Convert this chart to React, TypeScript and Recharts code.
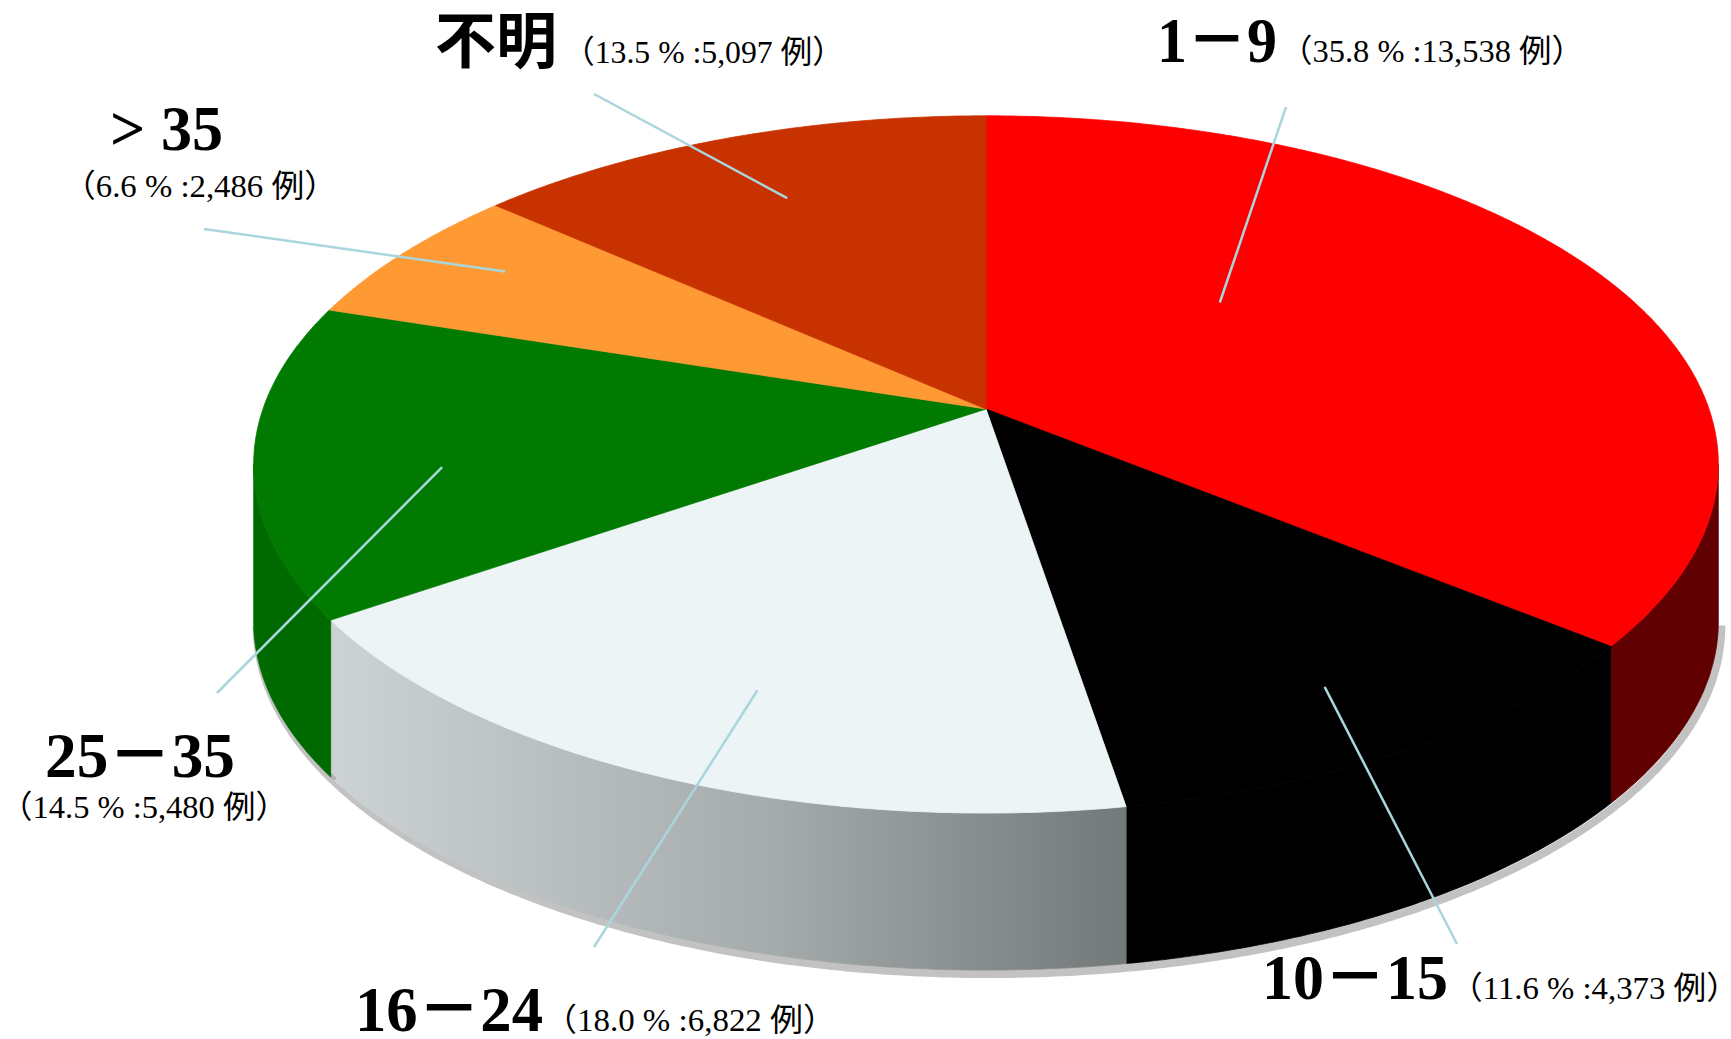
import React from "react";
import { Pie, PieChart } from "recharts";

const categories = ["1－9", "10－15", "16－24", "25－35", "> 35", "不明"];
const cases = [13538, 4373, 6822, 5480, 2486, 5097];
const percents = [35.8, 11.6, 18.0, 14.5, 6.6, 13.5];

const topColors = ["#ff0000", "#000000", "#edf4f6", "#007a00", "#ff9933", "#c83200"];
const sideColors = ["#600000", "#000000", "url(#sideGrey)", "#006a00", "#d97a20", "#a02800"];

const data = categories.map((name, i) => ({ name, value: cases[i] }));

// label placement: text anchors, outer end of the leader line, inner end as (radius, angle) on the disc
const layout = [
  { cat: [1157, 62], catW: 120, det: [1280, 62], detW: 304, end: [1286, 107], inner: [0.474, 44.1] },
  { cat: [1262, 999], catW: 186, det: [1450, 999], detW: 289, end: [1457, 944], inner: [0.834, -60.2] },
  { cat: [355, 1031], catW: 188, det: [544, 1031], detW: 292, end: [594, 947], inner: [0.783, -110.9] },
  { cat: [45, 777], catW: 190, det: [0, 818], detW: 288, end: [217, 693], inner: [0.751, -167.2] },
  { cat: [110, 150], catW: 113, det: [63, 197], detW: 274, end: [204, 229], inner: [0.832, 148.7] },
  { cat: [435, 63], catW: 122, det: [563, 63], detW: 281, end: [594, 94], inner: [0.753, 113.9] },
];

// tilted disc seen in perspective
const TILT = 0.47;
const PERSP = 0.159;
const DEPTH = 157;
const SILHOUETTE = (Math.asin(PERSP) * 180) / Math.PI;

const FONT = "'Liberation Serif', 'Noto Sans CJK JP', serif";

const project = (cx: number, cy: number, R: number, r: number, deg: number) => {
  const a = (deg * Math.PI) / 180;
  const u = r * Math.cos(a);
  const v = r * Math.sin(a);
  const d = 1 + PERSP * v;
  return [cx + (R * u) / d, cy - (R * TILT * v) / d];
};

const rimPoints = (cx: number, cy: number, R: number, from: number, to: number) => {
  const n = Math.max(2, Math.ceil(Math.abs(to - from) * 2));
  const pts: number[][] = [];
  for (let i = 0; i <= n; i++) pts.push(project(cx, cy, R, 1, from + ((to - from) * i) / n));
  return pts;
};

const toPath = (pts: number[][]) => pts.map((p, i) => `${i ? "L" : "M"}${p[0].toFixed(1)},${p[1].toFixed(1)}`).join("");

const sliceIndex = (props: any) =>
  typeof props.index === "number" ? props.index : categories.indexOf(props.payload?.name ?? props.name);

const renderSlice = (props: any) => {
  const { cx, cy, outerRadius: R, startAngle, endAngle } = props;
  const i = sliceIndex(props);
  const top = rimPoints(cx, cy, R, startAngle, endAngle);
  const topPath = `M${cx},${cy}` + toPath(top).replace(/^M/, "L") + "Z";

  const hi = Math.min(startAngle, -SILHOUETTE);
  const lo = Math.max(endAngle, -180 + SILHOUETTE);
  let side = null;
  let shadow = null;
  if (hi > lo) {
    const rim = rimPoints(cx, cy, R, hi, lo);
    const bottom = rim.map(([x, y]) => [x, y + DEPTH]);
    side = (
      <path
        d={toPath([...rim, ...bottom.slice().reverse()]) + "Z"}
        fill={sideColors[i]}
        stroke={sideColors[i]}
        strokeWidth={0.8}
      />
    );
    shadow = (
      <path
        d={toPath(bottom.map(([x, y]) => [x + 3, y + 4]))}
        fill="none"
        stroke="#999999"
        strokeOpacity={0.6}
        strokeWidth={8}
      />
    );
  }

  return (
    <g key={`slice-${i}`}>
      {i === 2 && (
        <defs>
          <linearGradient id="sideGrey" x1="0" y1="0" x2="1" y2="0">
            <stop offset="0%" stopColor="#cdd3d4" />
            <stop offset="55%" stopColor="#a6abac" />
            <stop offset="100%" stopColor="#737878" />
          </linearGradient>
        </defs>
      )}
      {shadow}
      {side}
      <path d={topPath} fill={topColors[i]} stroke={topColors[i]} strokeWidth={0.8} />
    </g>
  );
};

const renderNote = (props: any) => {
  const { cx, cy, outerRadius: R } = props;
  const i = sliceIndex(props);
  const L = layout[i];
  const [ix, iy] = project(cx, cy, R, L.inner[0], L.inner[1]);
  const detail = `（${percents[i].toFixed(1)} % :${cases[i].toLocaleString("en-US")} 例）`;
  return (
    <g key={`note-${i}`}>
      <line x1={L.end[0]} y1={L.end[1]} x2={ix} y2={iy} stroke="#a9d6dc" strokeWidth={2.5} />
      <text
        x={L.cat[0]}
        y={L.cat[1]}
        fontFamily={i === 5 ? "'Noto Sans CJK JP', sans-serif" : FONT}
        fontWeight="bold"
        fontSize={i === 5 ? 61 : 64}
        fill="#000"
        textLength={L.catW}
        lengthAdjust="spacingAndGlyphs"
      >
        {categories[i]}
      </text>
      <text
        x={L.det[0]}
        y={L.det[1]}
        fontFamily={FONT}
        fontSize={32}
        fill="#000"
        textLength={L.detW}
        lengthAdjust="spacingAndGlyphs"
      >
        {detail}
      </text>
    </g>
  );
};

export default function App() {
  return (
    <div style={{ position: "absolute", left: 0, top: 0, width: 1731, height: 1039, background: "#fff" }}>
      <PieChart width={1731} height={1039} margin={{ top: 0, right: 0, bottom: 0, left: 0 }}>
        <Pie
          data={data}
          dataKey="value"
          nameKey="name"
          cx={986}
          cy={409}
          innerRadius={0}
          outerRadius={723}
          startAngle={90}
          endAngle={-270}
          fill="transparent"
          stroke="none"
          labelLine={false}
          label={renderSlice}
          isAnimationActive={false}
        />
        <Pie
          data={data}
          dataKey="value"
          nameKey="name"
          cx={986}
          cy={409}
          innerRadius={0}
          outerRadius={723}
          startAngle={90}
          endAngle={-270}
          fill="transparent"
          stroke="none"
          labelLine={false}
          label={renderNote}
          isAnimationActive={false}
        />
      </PieChart>
    </div>
  );
}
